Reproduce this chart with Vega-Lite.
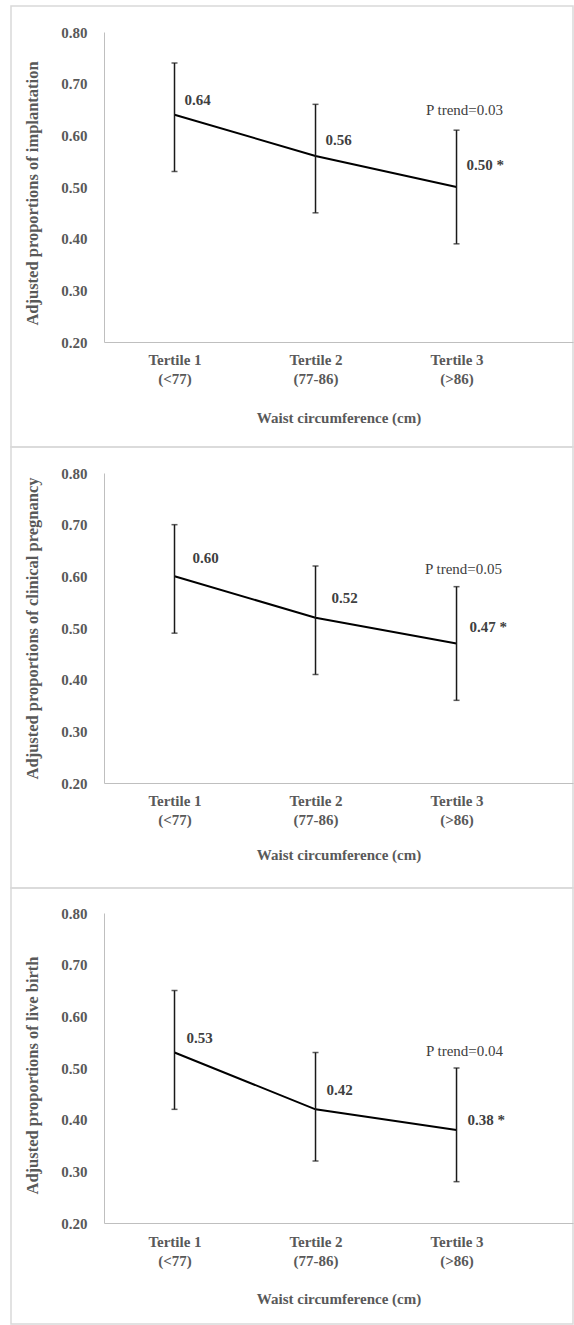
{
  "$schema": "https://vega.github.io/schema/vega-lite/v6.json",
  "padding": {"left": 10, "top": 5, "right": 0, "bottom": 0},
  "background": "white",
  "data": {"values": [
    {"panel": 1, "t": 1, "mean": 0.64, "lo": 0.53, "hi": 0.74, "label": "0.64", "ptrend": ""},
    {"panel": 1, "t": 2, "mean": 0.56, "lo": 0.45, "hi": 0.66, "label": "0.56", "ptrend": ""},
    {"panel": 1, "t": 3, "mean": 0.50, "lo": 0.39, "hi": 0.61, "label": "0.50 *", "ptrend": "P trend=0.03"},
    {"panel": 2, "t": 1, "mean": 0.60, "lo": 0.49, "hi": 0.70, "label": "0.60", "ptrend": ""},
    {"panel": 2, "t": 2, "mean": 0.52, "lo": 0.41, "hi": 0.62, "label": "0.52", "ptrend": ""},
    {"panel": 2, "t": 3, "mean": 0.47, "lo": 0.36, "hi": 0.58, "label": "0.47 *", "ptrend": "P trend=0.05"},
    {"panel": 3, "t": 1, "mean": 0.53, "lo": 0.42, "hi": 0.65, "label": "0.53", "ptrend": ""},
    {"panel": 3, "t": 2, "mean": 0.42, "lo": 0.32, "hi": 0.53, "label": "0.42", "ptrend": ""},
    {"panel": 3, "t": 3, "mean": 0.38, "lo": 0.28, "hi": 0.50, "label": "0.38 *", "ptrend": "P trend=0.04"}
  ]},
  "config": {
    "font": "Times New Roman, Liberation Serif, DejaVu Serif, serif",
    "view": {"stroke": "#d9d9d9", "strokeWidth": 1.5},
    "axis": {
      "labelFont": "Times New Roman, Liberation Serif, DejaVu Serif, serif", "labelFontWeight": "bold", "labelFontSize": 15, "labelColor": "#595959",
      "titleFont": "Times New Roman, Liberation Serif, DejaVu Serif, serif", "titleFontWeight": "bold", "titleFontSize": 15, "titleColor": "#595959",
      "ticks": false, "tickSize": 0, "grid": false, "domainColor": "#bfbfbf", "domainWidth": 1
    },
    "text": {"font": "Times New Roman, Liberation Serif, DejaVu Serif, serif", "fontSize": 15, "fontWeight": "bold", "color": "#404040", "align": "left", "baseline": "middle"}
  },
  "vconcat": [
    {
      "width": 562, "height": 441,
      "transform": [{"filter": "datum.panel == 1"}],
      "encoding": {
        "x": {"field": "t", "type": "quantitative",
          "scale": {"domain": [0.5, 3.826], "range": [93, 562], "zero": false, "nice": false},
          "axis": {"title": "Waist circumference (cm)", "values": [1, 2, 3], "offset": -105,
            "labelExpr": "datum.value == 1 ? ['Tertile 1', '(<77)'] : datum.value == 2 ? ['Tertile 2', '(77-86)'] : ['Tertile 3', '(>86)']",
            "labelPadding": 10, "labelLineHeight": 19, "titlePadding": 24}}
      },
      "layer": [
        {"mark": {"type": "line", "color": "#000000", "strokeWidth": 2},
         "encoding": {"y": {"field": "mean", "type": "quantitative", "title": "Adjusted proportions of implantation",
           "scale": {"domain": [0.2, 0.8], "range": [336, 26], "zero": false, "nice": false},
           "axis": {"values": [0.2, 0.3, 0.4, 0.5, 0.6, 0.7, 0.8], "format": ".2f", "offset": -93, "labelPadding": 17, "titlePadding": 20, "titleFontSize": 16.5, "titleY": 187}}}},
        {"mark": {"type": "rule", "color": "#1a1a1a", "strokeWidth": 1.5},
         "encoding": {"y": {"field": "lo", "type": "quantitative", "title": "Adjusted proportions of implantation"}, "y2": {"field": "hi"}}},
        {"mark": {"type": "tick", "orient": "horizontal", "size": 6, "thickness": 1.5, "color": "#1a1a1a"},
         "encoding": {"y": {"field": "lo", "type": "quantitative", "title": "Adjusted proportions of implantation"}}},
        {"mark": {"type": "tick", "orient": "horizontal", "size": 6, "thickness": 1.5, "color": "#1a1a1a"},
         "encoding": {"y": {"field": "hi", "type": "quantitative", "title": "Adjusted proportions of implantation"}}},
        {"transform": [{"filter": "datum.t == 1"}], "mark": {"type": "text", "dx": 10, "dy": -15},
         "encoding": {"y": {"field": "mean", "type": "quantitative", "title": "Adjusted proportions of implantation"}, "text": {"field": "label"}}},
        {"transform": [{"filter": "datum.t == 2"}], "mark": {"type": "text", "dx": 10, "dy": -16},
         "encoding": {"y": {"field": "mean", "type": "quantitative", "title": "Adjusted proportions of implantation"}, "text": {"field": "label"}}},
        {"transform": [{"filter": "datum.t == 3"}], "mark": {"type": "text", "dx": 10, "dy": -22},
         "encoding": {"y": {"field": "mean", "type": "quantitative", "title": "Adjusted proportions of implantation"}, "text": {"field": "label"}}},
        {"transform": [{"filter": "datum.t == 3"}], "mark": {"type": "text", "dx": 8, "dy": -20, "align": "center", "fontWeight": "normal"},
         "encoding": {"y": {"field": "hi", "type": "quantitative", "title": "Adjusted proportions of implantation"}, "text": {"field": "ptrend"}}}
      ]
    },
    {
      "width": 562, "height": 441,
      "transform": [{"filter": "datum.panel == 2"}],
      "encoding": {
        "x": {"field": "t", "type": "quantitative",
          "scale": {"domain": [0.5, 3.826], "range": [93, 562], "zero": false, "nice": false},
          "axis": {"title": "Waist circumference (cm)", "values": [1, 2, 3], "offset": -105,
            "labelExpr": "datum.value == 1 ? ['Tertile 1', '(<77)'] : datum.value == 2 ? ['Tertile 2', '(77-86)'] : ['Tertile 3', '(>86)']",
            "labelPadding": 10, "labelLineHeight": 19, "titlePadding": 20}}
      },
      "layer": [
        {"mark": {"type": "line", "color": "#000000", "strokeWidth": 2},
         "encoding": {"y": {"field": "mean", "type": "quantitative", "title": "Adjusted proportions of clinical pregnancy",
           "scale": {"domain": [0.2, 0.8], "range": [336, 26], "zero": false, "nice": false},
           "axis": {"values": [0.2, 0.3, 0.4, 0.5, 0.6, 0.7, 0.8], "format": ".2f", "offset": -93, "labelPadding": 17, "titlePadding": 20, "titleFontSize": 16.5}}}},
        {"mark": {"type": "rule", "color": "#1a1a1a", "strokeWidth": 1.5},
         "encoding": {"y": {"field": "lo", "type": "quantitative", "title": "Adjusted proportions of clinical pregnancy"}, "y2": {"field": "hi"}}},
        {"mark": {"type": "tick", "orient": "horizontal", "size": 6, "thickness": 1.5, "color": "#1a1a1a"},
         "encoding": {"y": {"field": "lo", "type": "quantitative", "title": "Adjusted proportions of clinical pregnancy"}}},
        {"mark": {"type": "tick", "orient": "horizontal", "size": 6, "thickness": 1.5, "color": "#1a1a1a"},
         "encoding": {"y": {"field": "hi", "type": "quantitative", "title": "Adjusted proportions of clinical pregnancy"}}},
        {"transform": [{"filter": "datum.t == 1"}], "mark": {"type": "text", "dx": 18, "dy": -18},
         "encoding": {"y": {"field": "mean", "type": "quantitative", "title": "Adjusted proportions of clinical pregnancy"}, "text": {"field": "label"}}},
        {"transform": [{"filter": "datum.t == 2"}], "mark": {"type": "text", "dx": 16, "dy": -20},
         "encoding": {"y": {"field": "mean", "type": "quantitative", "title": "Adjusted proportions of clinical pregnancy"}, "text": {"field": "label"}}},
        {"transform": [{"filter": "datum.t == 3"}], "mark": {"type": "text", "dx": 13, "dy": -17},
         "encoding": {"y": {"field": "mean", "type": "quantitative", "title": "Adjusted proportions of clinical pregnancy"}, "text": {"field": "label"}}},
        {"transform": [{"filter": "datum.t == 3"}], "mark": {"type": "text", "dx": 7, "dy": -18, "align": "center", "fontWeight": "normal"},
         "encoding": {"y": {"field": "hi", "type": "quantitative", "title": "Adjusted proportions of clinical pregnancy"}, "text": {"field": "ptrend"}}}
      ]
    },
    {
      "width": 562, "height": 436,
      "transform": [{"filter": "datum.panel == 3"}],
      "encoding": {
        "x": {"field": "t", "type": "quantitative",
          "scale": {"domain": [0.5, 3.826], "range": [93, 562], "zero": false, "nice": false},
          "axis": {"title": "Waist circumference (cm)", "values": [1, 2, 3], "offset": -101,
            "labelExpr": "datum.value == 1 ? ['Tertile 1', '(<77)'] : datum.value == 2 ? ['Tertile 2', '(77-86)'] : ['Tertile 3', '(>86)']",
            "labelPadding": 11, "labelLineHeight": 19, "titlePadding": 23}}
      },
      "layer": [
        {"mark": {"type": "line", "color": "#000000", "strokeWidth": 2},
         "encoding": {"y": {"field": "mean", "type": "quantitative", "title": "Adjusted proportions of live birth",
           "scale": {"domain": [0.2, 0.8], "range": [335, 25], "zero": false, "nice": false},
           "axis": {"values": [0.2, 0.3, 0.4, 0.5, 0.6, 0.7, 0.8], "format": ".2f", "offset": -93, "labelPadding": 17, "titlePadding": 20, "titleFontSize": 16.5, "titleY": 187}}}},
        {"mark": {"type": "rule", "color": "#1a1a1a", "strokeWidth": 1.5},
         "encoding": {"y": {"field": "lo", "type": "quantitative", "title": "Adjusted proportions of live birth"}, "y2": {"field": "hi"}}},
        {"mark": {"type": "tick", "orient": "horizontal", "size": 6, "thickness": 1.5, "color": "#1a1a1a"},
         "encoding": {"y": {"field": "lo", "type": "quantitative", "title": "Adjusted proportions of live birth"}}},
        {"mark": {"type": "tick", "orient": "horizontal", "size": 6, "thickness": 1.5, "color": "#1a1a1a"},
         "encoding": {"y": {"field": "hi", "type": "quantitative", "title": "Adjusted proportions of live birth"}}},
        {"transform": [{"filter": "datum.t == 1"}], "mark": {"type": "text", "dx": 12, "dy": -15},
         "encoding": {"y": {"field": "mean", "type": "quantitative", "title": "Adjusted proportions of live birth"}, "text": {"field": "label"}}},
        {"transform": [{"filter": "datum.t == 2"}], "mark": {"type": "text", "dx": 11, "dy": -19},
         "encoding": {"y": {"field": "mean", "type": "quantitative", "title": "Adjusted proportions of live birth"}, "text": {"field": "label"}}},
        {"transform": [{"filter": "datum.t == 3"}], "mark": {"type": "text", "dx": 11, "dy": -10},
         "encoding": {"y": {"field": "mean", "type": "quantitative", "title": "Adjusted proportions of live birth"}, "text": {"field": "label"}}},
        {"transform": [{"filter": "datum.t == 3"}], "mark": {"type": "text", "dx": 8, "dy": -17, "align": "center", "fontWeight": "normal"},
         "encoding": {"y": {"field": "hi", "type": "quantitative", "title": "Adjusted proportions of live birth"}, "text": {"field": "ptrend"}}}
      ]
    }
  ],
  "spacing": 0,
  "bounds": "flush"
}
